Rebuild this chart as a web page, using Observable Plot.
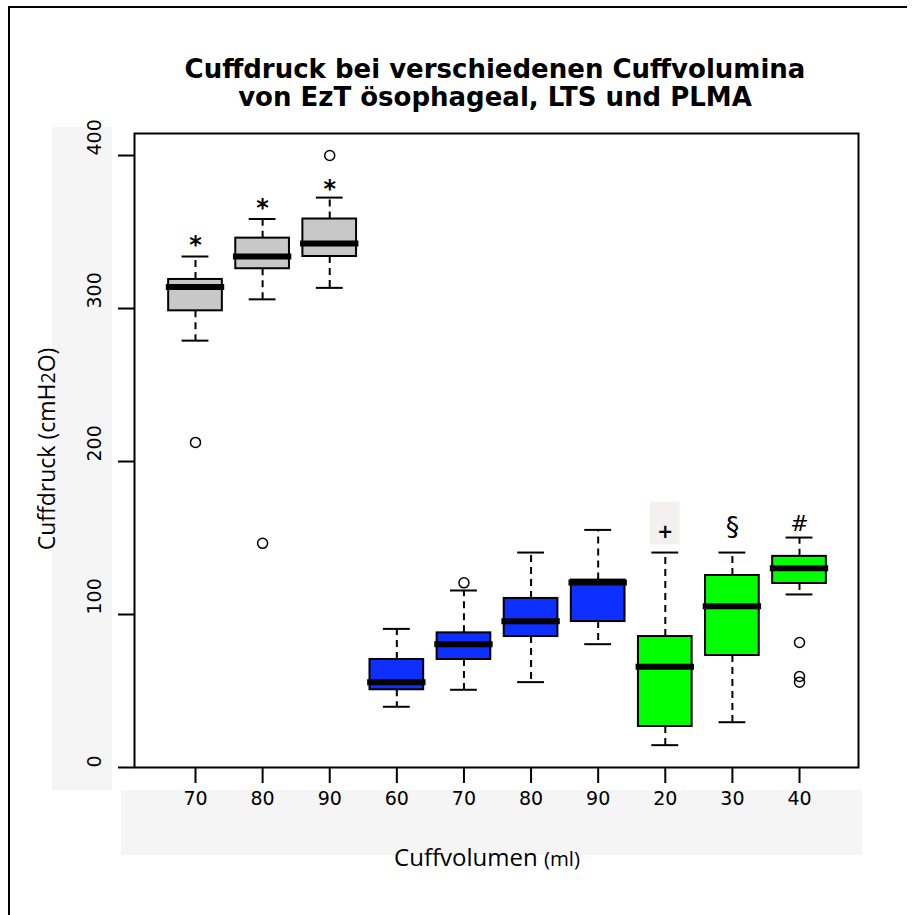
<!DOCTYPE html>
<html>
<head>
<meta charset="utf-8">
<script src="https://cdn.jsdelivr.net/npm/d3@7"></script>
<script src="https://cdn.jsdelivr.net/npm/@observablehq/plot@0.6"></script>
<style>
  body { margin: 0; background: white; }
  #wrap { position: relative; width: 914px; height: 915px; background: white; overflow: hidden; }
  .panel { position: absolute; background: #f5f5f5; }
  #border { position: absolute; left: 8px; top: 6px; width: 897px; height: 920px; border-left: 2px solid black; border-top: 2px solid black; }
  #title { position: absolute; left: 95px; width: 800px; top: 55px; text-align: center; font: bold 26px "DejaVu Sans"; line-height: 28px; color: black; }
  #ylab { position: absolute; left: 46px; top: 449px; transform: translate(-50%, -50%) rotate(-90deg); white-space: nowrap; font: 23px "Open Sans"; color: black; }
  #xlab { position: absolute; left: 487px; top: 840px; transform: translateX(-50%); white-space: nowrap; font: 24px "Open Sans"; color: black; }
  svg { position: absolute; left: 0; top: 0; }
</style>
</head>
<body>
<div id="wrap">
  <div class="panel" style="left:52px;top:127px;width:60px;height:663px"></div>
  <div class="panel" style="left:121px;top:790px;width:741px;height:65px"></div>
  <div id="border"></div>
  <div id="title">Cuffdruck bei verschiedenen Cuffvolumina<br>von EzT ösophageal, LTS und PLMA</div>
  <div id="ylab">Cuffdruck (cmH<span style="font-size:0.85em">2</span>O)</div>
  <div id="xlab">Cuffvolumen <span style="font-size:0.85em">(ml)</span></div>
</div>
<script>
// ---- data ----
const labels = ["70", "80", "90", "60", "70", "80", "90", "20", "30", "40"];
const devices = ["EzT", "EzT", "EzT", "LTS", "LTS", "LTS", "LTS", "PLMA", "PLMA", "PLMA"];
const lowerWhisker = [279, 306, 313.5, 39.7, 50.8, 55.8, 80.6, 14.6, 29.6, 113.1];
const q1 = [298.5, 326, 334, 50.8, 70.6, 85.6, 95.4, 26.8, 73.2, 120.3];
const median = [314, 334, 342.5, 55.8, 80.6, 95.6, 120.9, 65.8, 105.4, 130.3];
const q3 = [319, 346, 358.5, 70.6, 88, 110.5, 122.5, 85.6, 125.5, 138];
const upperWhisker = [334, 358.5, 372.5, 90.6, 115.7, 140.5, 155.3, 140.5, 140.5, 150.3];
const outlierGroup = [1, 2, 3, 5, 10, 10, 10];
const outlierValue = [212.5, 146.5, 400, 120.7, 81.7, 59.5, 55.8];
const markGroup = [1, 2, 3, 8, 9, 10];
const markSymbol = ["*", "*", "*", "+", "§", "#"];
const markValue = [345.5, 369.5, 382, 154.5, 157, 159.5];
const yTicks = [0, 100, 200, 300, 400];

// ---- tables ----
const boxes = labels.map((l, i) => ({
  pos: i + 1, label: l, device: devices[i],
  lo: lowerWhisker[i], q1: q1[i], med: median[i], q3: q3[i], hi: upperWhisker[i]
}));
const outliers = outlierGroup.map((g, i) => ({pos: g, value: outlierValue[i]}));
const notes = markGroup.map((g, i) => ({pos: g, sym: markSymbol[i], value: markValue[i]}));

const chart = Plot.plot({
  width: 914, height: 915,
  marginLeft: 134, marginRight: 56, marginTop: 133, marginBottom: 148,
  style: {background: "transparent", fontFamily: "DejaVu Sans", fontSize: "16px", overflow: "visible"},
  x: {type: "linear", domain: [0.091, 10.879], label: null},
  y: {domain: [0, 414.4], label: null},
  color: {type: "ordinal", domain: ["EzT", "LTS", "PLMA"], range: ["#c8c8c8", "#0d2fff", "#00ff00"]},
  marks: [
    Plot.ruleX(boxes, {x: "pos", y1: "q3", y2: "hi", stroke: "black", strokeWidth: 2, strokeDasharray: "7,5"}),
    Plot.ruleX(boxes, {x: "pos", y1: "q1", y2: "lo", stroke: "black", strokeWidth: 2, strokeDasharray: "7,5"}),
    Plot.ruleY(boxes, {y: "hi", x1: d => d.pos - 0.2, x2: d => d.pos + 0.2, stroke: "black", strokeWidth: 2}),
    Plot.ruleY(boxes, {y: "lo", x1: d => d.pos - 0.2, x2: d => d.pos + 0.2, stroke: "black", strokeWidth: 2}),
    Plot.rect(boxes, {x1: d => d.pos - 0.4, x2: d => d.pos + 0.4, y1: "q1", y2: "q3", fill: "device", stroke: "black", strokeWidth: 2}),
    Plot.ruleY(boxes, {y: "med", x1: d => d.pos - 0.435, x2: d => d.pos + 0.435, stroke: "black", strokeWidth: 6}),
    Plot.dot(outliers, {x: "pos", y: "value", r: 5, stroke: "black", strokeWidth: 1.5, fill: "none"}),
    // backdrop behind the "+" symbol
    Plot.rect(notes.filter(d => d.sym === "+"), {x1: d => d.pos - 0.22, x2: d => d.pos + 0.22, y1: d => d.value - 9, y2: d => d.value + 19, fill: "#f4f0ef"}),
    Plot.text(notes.filter(d => d.sym === "*"), {x: "pos", y: "value", text: "sym", fontSize: 24, fontWeight: "bold", dy: 6, fontFamily: "DejaVu Sans"}),
    Plot.text(notes.filter(d => d.sym === "+"), {x: "pos", y: "value", text: "sym", fontSize: 19, fontWeight: "bold", dy: 1, fontFamily: "DejaVu Sans"}),
    Plot.text(notes.filter(d => d.sym === "§"), {x: "pos", y: "value", text: "sym", fontSize: 27, fontFamily: "DejaVu Sans"}),
    Plot.text(notes.filter(d => d.sym === "#"), {x: "pos", y: "value", text: "sym", fontSize: 22, fontFamily: "DejaVu Sans"}),
    Plot.axisX({ticks: boxes.map(d => d.pos), tickSize: 16, tickFormat: () => "", strokeWidth: 2, label: null}),
    Plot.axisY({ticks: yTicks, tickSize: 16, tickFormat: () => "", strokeWidth: 2, label: null}),
    Plot.text(boxes, {x: "pos", text: "label", frameAnchor: "bottom", dy: 37, fontSize: 19, fontFamily: "DejaVu Sans"}),
    Plot.text(yTicks, {y: d => d, text: d => String(d), frameAnchor: "left", dx: -40, rotate: -90, fontSize: 19, fontFamily: "DejaVu Sans"}),
    Plot.frame({stroke: "black", strokeWidth: 2})
  ]
});
document.getElementById("wrap").appendChild(chart);
</script>
</body>
</html>
